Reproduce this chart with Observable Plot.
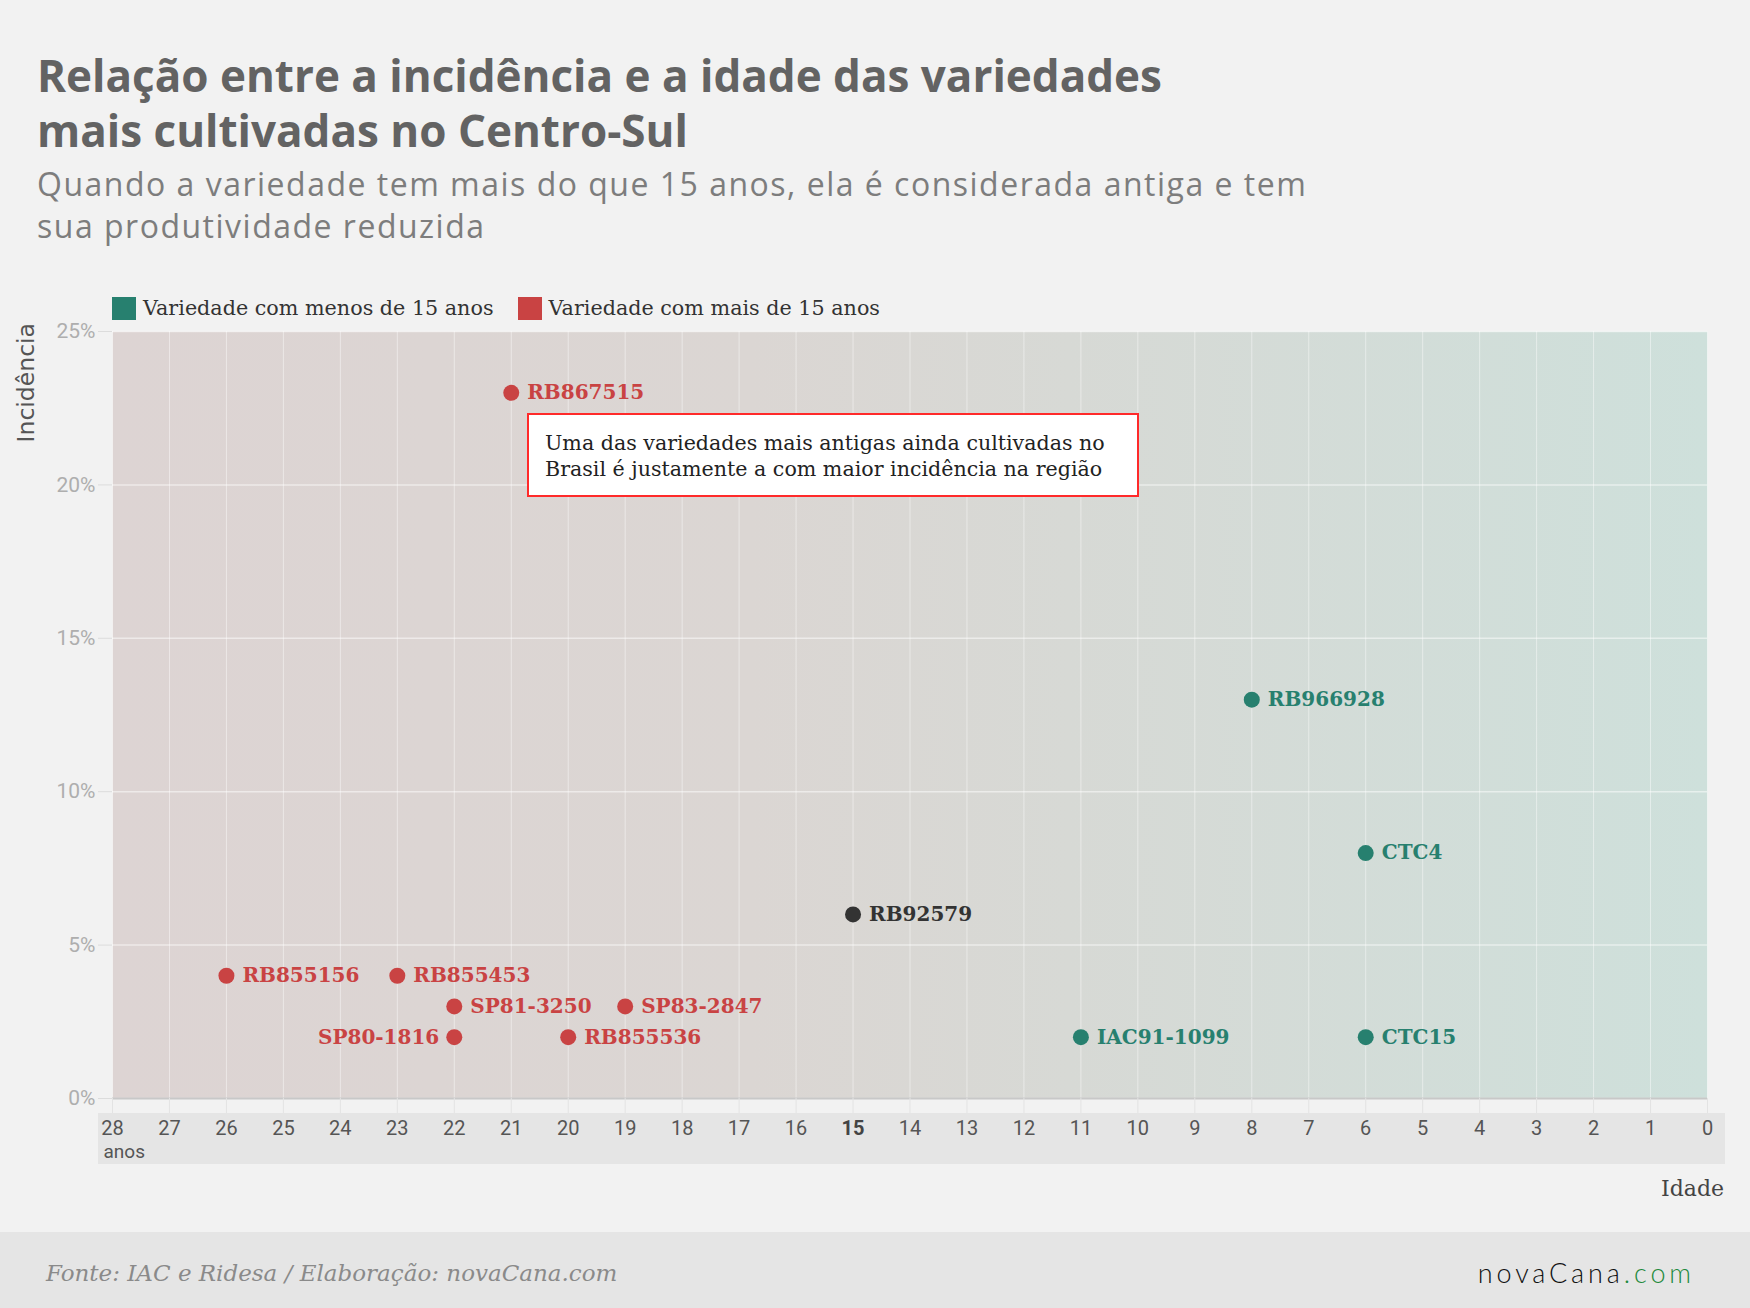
<!DOCTYPE html>
<html lang="pt-BR">
<head>
<meta charset="utf-8">
<title>Relação entre a incidência e a idade das variedades</title>
<script src="https://cdn.jsdelivr.net/npm/d3@7"></script>
<script src="https://cdn.jsdelivr.net/npm/@observablehq/plot@0.6"></script>
<style>
  html, body { margin: 0; padding: 0; }
  body {
    width: 1750px; height: 1308px; position: relative; overflow: hidden;
    background: #f2f2f2; font-family: "Open Sans", sans-serif;
  }
  #title {
    position: absolute; left: 37px; top: 48px; white-space: nowrap;
    font: 700 44px/55px "Open Sans", sans-serif; color: #636363;
  }
  #subtitle {
    position: absolute; left: 37px; top: 163px; white-space: nowrap;
    font: 400 32px/42px "Open Sans", sans-serif; color: #7d7d7d;
    letter-spacing: 1.5px;
  }
  #legend {
    position: absolute; left: 112px; top: 297px; display: flex;
    font: 400 20.7px/23px "DejaVu Serif", serif; color: #333;
  }
  #legend .item { display: flex; align-items: center; margin-right: 24px; }
  #legend .sw { width: 24px; height: 23px; margin-right: 7px; }
  #ylabel {
    position: absolute; left: 13px; top: 323px;
    writing-mode: vertical-rl; transform: rotate(180deg);
    font: 400 23.5px/26px "DejaVu Sans", sans-serif; color: #555;
  }
  #chart { position: absolute; left: 0; top: 320px; }
  #note {
    position: absolute; left: 527px; top: 413px; width: 612px; height: 84px;
    box-sizing: border-box; background: #fff; border: 2px solid #ff2a2a;
    padding: 15px 0 0 16px;
    font: 400 20.6px/26px "DejaVu Serif", serif; color: #222; white-space: nowrap;
  }
  #xlabel {
    position: absolute; right: 26px; top: 1177px;
    font: 400 22px/24px "DejaVu Serif", serif; color: #444;
  }
  #footer {
    position: absolute; left: 0; top: 1232px; width: 1750px; height: 76px;
    background: #e5e5e5;
  }
  #source {
    position: absolute; left: 46px; top: 27px;
    font: italic 400 23px/28px "DejaVu Serif", serif; color: #8a8a8a;
  }
  #logo {
    position: absolute; right: 55px; top: 26px;
    font: 300 27px/30px Lato, sans-serif; color: #111; letter-spacing: 3.9px;
  }
  #logo span { color: #1e8a3c; }
</style>
</head>
<body>
<div id="title">Relação entre a incidência e a idade das variedades<br>mais cultivadas no Centro-Sul</div>
<div id="subtitle">Quando a variedade tem mais do que 15 anos, ela é considerada antiga e tem<br>sua produtividade reduzida</div>
<div id="legend"></div>
<div id="ylabel">Incidência</div>
<div id="chart"></div>
<div id="note">Uma das variedades mais antigas ainda cultivadas no<br>Brasil é justamente a com maior incidência na região</div>
<div id="xlabel">Idade</div>
<div id="footer">
  <div id="source">Fonte: IAC e Ridesa / Elaboração: novaCana.com</div>
  <div id="logo">novaCana<span>.com</span></div>
</div>
<script>
// Variety names, age in years and share of cultivated area (%)
const varieties = ["RB867515", "RB966928", "CTC4", "RB92579", "RB855156", "RB855453",
                   "SP81-3250", "SP83-2847", "SP80-1816", "RB855536", "IAC91-1099", "CTC15"];
const ages      = [21, 8, 6, 15, 26, 23, 22, 19, 22, 20, 11, 6];
const incidence = [23, 13, 8, 6, 4, 4, 3, 3, 2, 2, 2, 2];

// Axis ticks
const ageTicks = [28, 27, 26, 25, 24, 23, 22, 21, 20, 19, 18, 17, 16, 15, 14,
                  13, 12, 11, 10, 9, 8, 7, 6, 5, 4, 3, 2, 1, 0];
const incidenceTicks = [0, 5, 10, 15, 20, 25];

// Age groups and their legend entries
const groupKeys   = ["nova", "antiga", "limite"];
const groupLabels = ["Variedade com menos de 15 anos", "Variedade com mais de 15 anos"];
const groupColors = ["#27806f", "#c94343", "#333333"];
const ageLimit = 15;

const data = varieties.map((name, i) => ({
  name,
  age: ages[i],
  incidence: incidence[i],
  group: ages[i] < ageLimit ? "nova" : ages[i] > ageLimit ? "antiga" : "limite"
}));

// Labels placed to the left of their dot
const leftLabelled = new Set(["SP80-1816"]);

// Legend (HTML)
const legend = d3.select("#legend");
groupLabels.forEach((label, i) => {
  const item = legend.append("div").attr("class", "item");
  item.append("div").attr("class", "sw").style("background", groupColors[i]);
  item.append("div").text(label);
});

const labelFont = {fontFamily: "DejaVu Serif", fontWeight: "bold", fontSize: 20};

const chart = Plot.plot({
  width: 1750,
  height: 860,
  marginTop: 11,
  marginBottom: 82,
  marginLeft: 112,
  marginRight: 43,
  style: {background: "transparent", fontFamily: "Roboto"},
  x: {domain: [ageTicks[0], ageTicks[ageTicks.length - 1]]},
  y: {domain: [incidenceTicks[0], incidenceTicks[incidenceTicks.length - 1]]},
  color: {domain: groupKeys, range: groupColors},
  marks: [
    Plot.frame({fill: "url(#age-gradient)", stroke: "none"}),
    Plot.gridX({ticks: ageTicks, stroke: "#ffffff", strokeOpacity: 0.45, strokeWidth: 1}),
    Plot.gridY({ticks: incidenceTicks, stroke: "#ffffff", strokeOpacity: 0.5, strokeWidth: 1.5}),
    Plot.ruleY([0], {stroke: "#c8c8c8", strokeWidth: 2}),
    Plot.axisY({
      ticks: incidenceTicks, tickFormat: d => d + "%", tickSize: 14, tickPadding: 3,
      stroke: "#dcdcdc", fill: "#aeaeae", fontSize: 21, label: null
    }),
    Plot.axisX({
      ticks: ageTicks.filter(d => d !== ageLimit), tickSize: 15, tickPadding: 7,
      stroke: "#e3e3e3", fill: "#555", fontSize: 20, label: null
    }),
    Plot.axisX({
      ticks: [ageLimit], tickSize: 15, tickPadding: 7,
      stroke: "#e3e3e3", fill: "#444", fontSize: 20, fontWeight: "bold", label: null
    }),
    Plot.text([ageTicks[0]], {
      x: d => d, text: () => "anos", frameAnchor: "bottom", dy: 59, dx: -9,
      textAnchor: "start", fill: "#555", fontSize: 19
    }),
    Plot.dot(data, {x: "age", y: "incidence", fill: "group", r: 8}),
    Plot.text(data.filter(d => !leftLabelled.has(d.name)), {
      x: "age", y: "incidence", text: "name", fill: "group",
      textAnchor: "start", dx: 16, ...labelFont
    }),
    Plot.text(data.filter(d => leftLabelled.has(d.name)), {
      x: "age", y: "incidence", text: "name", fill: "group",
      textAnchor: "end", dx: -15, ...labelFont
    })
  ]
});

// Gradient for the plot background: reddish for old varieties, greenish for new ones
const svg = d3.select(chart);
const grad = svg.insert("defs", ":first-child").append("linearGradient")
  .attr("id", "age-gradient").attr("x1", "0%").attr("x2", "100%").attr("y1", "0%").attr("y2", "0%");
grad.append("stop").attr("offset", "0%").attr("stop-color", "#ddd4d3");
grad.append("stop").attr("offset", "40%").attr("stop-color", "#dbd6d3");
grad.append("stop").attr("offset", "60%").attr("stop-color", "#d7d9d5");
grad.append("stop").attr("offset", "100%").attr("stop-color", "#cee0db");

// Grey band carrying the age tick labels, drawn beneath the axis
const xs = chart.scale("x"), ys = chart.scale("y");
const xa = xs.apply(ageTicks[0]), xb = xs.apply(ageTicks[ageTicks.length - 1]);
const yb = ys.apply(0);
svg.insert("rect", "defs + *")
  .attr("x", xa - 14).attr("width", xb - xa + 32)
  .attr("y", yb + 15).attr("height", 51)
  .attr("fill", "#e5e5e5");

document.getElementById("chart").appendChild(chart);
</script>
</body>
</html>
